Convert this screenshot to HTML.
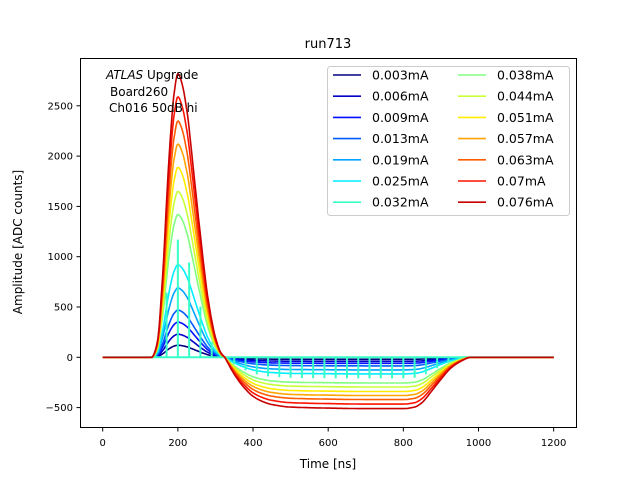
<!DOCTYPE html>
<html><head><meta charset="utf-8"><style>
body{margin:0;background:#fff;font-family:"Liberation Sans","DejaVu Sans",sans-serif}
</style></head><body>
<svg id="chart" width="640" height="480" xmlns="http://www.w3.org/2000/svg" font-family="DejaVu Sans, Liberation Sans, sans-serif">
<rect width="640" height="480" fill="#fff"/>
<text x="328" y="48" font-size="13" text-anchor="middle">run713</text>
<text x="328" y="468" font-size="12" text-anchor="middle">Time [ns]</text>
<text transform="translate(22,242) rotate(-90)" font-size="12" text-anchor="middle">Amplitude [ADC counts]</text>
<g id="plot"></g>
<g font-size="12">
<text x="106" y="79"><tspan font-style="italic">ATLAS</tspan> Upgrade</text>
<text x="110" y="96">Board260</text>
<text x="109" y="112">Ch016 50dB hi</text>
</g>
<rect x="80.5" y="58.5" width="496" height="369" fill="none" stroke="#000" stroke-width="1"/>
<g id="legend"></g>
</svg>
<script>
const labels=["0.003mA","0.006mA","0.009mA","0.013mA","0.019mA","0.025mA","0.032mA","0.038mA","0.044mA","0.051mA","0.057mA","0.063mA","0.07mA","0.076mA"];
const peaks=[120,230,350,470,690,920,1170,1420,1650,1890,2120,2350,2590,2820];
const undershoots=[-20,-40,-60,-85,-125,-165,-210,-255,-295,-340,-380,-420,-465,-510];
const xTicks=[0,200,400,600,800,1000,1200];
const yTicks=[-500,0,500,1000,1500,2000,2500];
const posT=[0,130,145,160,175,190,200,210,225,240,260,280,300,315,325];
const posS=[0,0,0.05,0.3,0.67,0.93,1,0.97,0.86,0.68,0.43,0.21,0.07,0.015,0];
const negT=[325,350,375,400,425,450,500,600,700,800,830,850,875,900,925,950,980,1200];
const negS=[0,0.33,0.58,0.76,0.86,0.92,0.97,0.99,1,1,0.97,0.88,0.66,0.43,0.22,0.09,0,0];
const X=t=>102.7+t*0.3758, Y=v=>357.3-v*0.1006;
function mono(ts,ss,t){const n=ts.length;if(t<=ts[0])return ss[0];if(t>=ts[n-1])return ss[n-1];
const d=[],m=[];for(let i=0;i<n-1;i++)d.push((ss[i+1]-ss[i])/(ts[i+1]-ts[i]));
for(let i=0;i<n;i++){if(i===0)m.push(d[0]);else if(i===n-1)m.push(d[n-2]);else m.push(d[i-1]*d[i]<=0?0:2/(1/d[i-1]+1/d[i]));}
let i=0;while(t>ts[i+1])i++;const h=ts[i+1]-ts[i],s=(t-ts[i])/h;
const h00=2*s*s*s-3*s*s+1,h10=s*s*s-2*s*s+s,h01=-2*s*s*s+3*s*s,h11=s*s*s-s*s;
return h00*ss[i]+h10*h*m[i]+h01*ss[i+1]+h11*h*m[i+1];}
function val(k,t){if(t<=325)return peaks[k]*mono(posT,posS,t);return -Math.abs(undershoots[k])*mono(negT,negS,t);}
function jet(x){const c=v=>Math.round(255*Math.max(0,Math.min(1,v)));return `rgb(${c(1.5-Math.abs(4*x-3))},${c(1.5-Math.abs(4*x-2))},${c(1.5-Math.abs(4*x-1))})`;}
const NS="http://www.w3.org/2000/svg";
const plot=document.getElementById('plot'), svg=document.getElementById('chart'), leg=document.getElementById('legend');
function mk(tag,attrs,parent){const e=document.createElementNS(NS,tag);for(const k in attrs)e.setAttribute(k,attrs[k]);parent.appendChild(e);return e;}
xTicks.forEach(t=>{const g=mk('g',{},svg);


mk('line',{x1:X(t),x2:X(t),y1:428,y2:431.5,stroke:'#000'},g);const tx=mk('text',{x:X(t),y:446,'font-size':10,'text-anchor':'middle'},g);tx.textContent=t;});
yTicks.forEach(v=>{const g=mk('g',{},svg);


mk('line',{x1:76.5,x2:80,y1:Y(v),y2:Y(v),stroke:'#000'},g);const tx=mk('text',{x:73,y:Y(v)+3.5,'font-size':10,'text-anchor':'end'},g);tx.textContent=v<0?'\u2212'+(-v):v;});
const colOf=k=>jet(k/14);
peaks.forEach((p,k)=>{const col=colOf(k);
if(k===6){let d=`M${X(0)},${Y(0)}L${X(1200)},${Y(0)}`;for(let t=20;t<=1200;t+=30){d+=`M${X(t)},${Y(0)}L${X(t)},${Y(val(k,t))}`;}
const e=mk('path',{d:d,fill:'none',stroke:col,'stroke-width':2},plot);

return;}
let pts=[];for(let t=0;t<=1200;t+=3)pts.push(X(t).toFixed(1)+','+Y(val(k,t)).toFixed(1));
const e=mk('polyline',{points:pts.join(' '),fill:'none',stroke:col,'stroke-width':1.6,'stroke-linejoin':'round'},plot);

});
mk('rect',{x:327.5,y:66.5,width:242,height:149,rx:3,fill:'#fff','fill-opacity':0.8,stroke:'#ccc'},leg);
labels.forEach((l,k)=>{const col=k<7?0:1,row=k%7;const x0=333+col*125,y0=75+row*21.2;const g=mk('g',{},leg);


mk('line',{x1:x0,x2:x0+28,y1:y0,y2:y0,stroke:colOf(k),'stroke-width':1.6},g);
const tx=mk('text',{x:x0+39,y:y0+4.5,'font-size':12.5},g);tx.textContent=l;});
</script>
</body></html>
